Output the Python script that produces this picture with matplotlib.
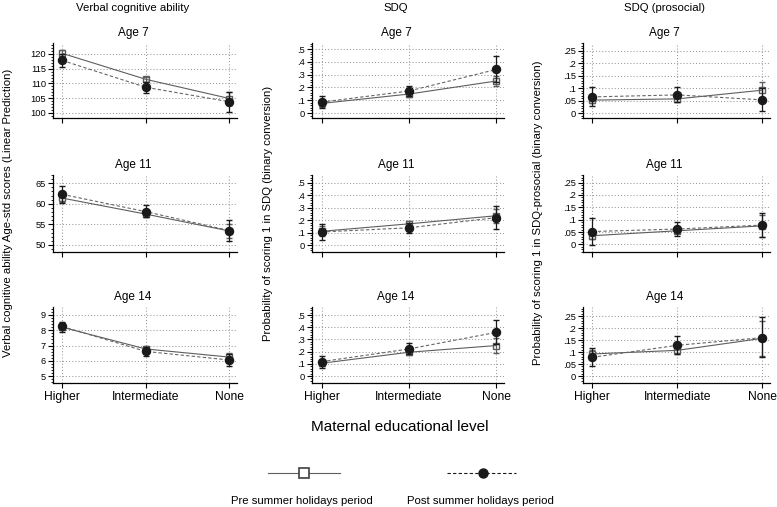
import matplotlib
matplotlib.use("Agg")
import matplotlib.pyplot as plt
from matplotlib.lines import Line2D
from matplotlib.ticker import AutoMinorLocator, FuncFormatter

plt.rcParams.update({
    "font.family": ["Liberation Sans", "DejaVu Sans"],
    "axes.linewidth": 0.9,
})

W, H = 777, 507

categories = ["Higher", "Intermediate", "None"]
col_titles = ["Verbal cognitive ability", "SDQ", "SDQ (prosocial)"]
row_titles = ["Age 7", "Age 11", "Age 14"]
ylabels = [
    "Verbal cognitive ability Age-std scores (Linear Prediction)",
    "Probability of scoring 1 in SDQ (binary conversion)",
    "Probability of scoring 1 in SDQ-prosocial (binary conversion)",
]

# verbal cognitive ability: (age 7, age 11, age 14)
verbal_pre = [[120.2, 111.4, 104.9], [61.4, 57.5, 53.4], [8.2, 6.78, 6.25]]
verbal_pre_lo = [[119.2, 110.5, 102.8], [60.4, 56.8, 51.8], [8.0, 6.6, 5.95]]
verbal_pre_hi = [[121.2, 112.3, 107.0], [62.4, 58.2, 55.0], [8.4, 6.95, 6.55]]
verbal_post = [[117.8, 108.7, 103.8], [62.3, 58.1, 53.5], [8.25, 6.62, 6.06]]
verbal_post_lo = [[115.5, 106.9, 100.4], [60.3, 56.7, 51.0], [7.92, 6.32, 5.67]]
verbal_post_hi = [[120.1, 110.5, 107.2], [64.4, 59.6, 56.1], [8.57, 6.92, 6.48]]

# SDQ
sdq_pre = [[0.075, 0.148, 0.25], [0.11, 0.17, 0.235], [0.105, 0.195, 0.25]]
sdq_pre_lo = [[0.05, 0.125, 0.21], [0.07, 0.14, 0.18], [0.08, 0.175, 0.19]]
sdq_pre_hi = [[0.10, 0.17, 0.29], [0.15, 0.195, 0.29], [0.13, 0.215, 0.31]]
sdq_post = [[0.085, 0.172, 0.34], [0.105, 0.138, 0.22], [0.118, 0.222, 0.358]]
sdq_post_lo = [[0.04, 0.13, 0.24], [0.04, 0.095, 0.13], [0.07, 0.18, 0.26]]
sdq_post_hi = [[0.13, 0.21, 0.445], [0.17, 0.18, 0.31], [0.165, 0.27, 0.46]]

# SDQ prosocial
pro_pre = [[0.052, 0.057, 0.092], [0.035, 0.055, 0.075], [0.092, 0.107, 0.157]]
pro_pre_lo = [[0.04, 0.045, 0.06], [0.02, 0.045, 0.03], [0.075, 0.09, 0.085]]
pro_pre_hi = [[0.065, 0.07, 0.125], [0.05, 0.065, 0.12], [0.11, 0.125, 0.23]]
pro_post = [[0.065, 0.073, 0.053], [0.052, 0.062, 0.078], [0.078, 0.128, 0.16]]
pro_post_lo = [[0.03, 0.045, 0.008], [-0.002, 0.035, 0.03], [0.04, 0.09, 0.078]]
pro_post_hi = [[0.105, 0.104, 0.10], [0.108, 0.092, 0.128], [0.115, 0.165, 0.245]]

outcomes = [
    (verbal_pre, verbal_pre_lo, verbal_pre_hi, verbal_post, verbal_post_lo, verbal_post_hi),
    (sdq_pre, sdq_pre_lo, sdq_pre_hi, sdq_post, sdq_post_lo, sdq_post_hi),
    (pro_pre, pro_pre_lo, pro_pre_hi, pro_post, pro_post_lo, pro_post_hi),
]

# axis settings per panel [col][row]: (ymin, ymax, tick step)
ylims = [
    [(98.3, 123.7, 5), (48.3, 67.0, 5), (4.56, 9.52, 1)],
    [(-0.039, 0.547, 0.1), (-0.056, 0.562, 0.1), (-0.057, 0.566, 0.1)],
    [(-0.02, 0.282, 0.05), (-0.031, 0.281, 0.05), (-0.029, 0.2875, 0.05)],
]
yticks_lo = [[100, 50, 5], [0, 0, 0], [0, 0, 0]]

# pixel layout
col_x = [(53, 237), (312, 504), (583, 770)]
row_y = [(43, 118), (175, 252), (307, 383)]

PRE_C = "#5e5e5e"
POST_C = "#1a1a1a"
POST_LINE = "#666666"
GRID_C = "#9a9a9a"


def stata_fmt(v, _pos=None):
    if abs(v) < 1e-9:
        return "0"
    s = f"{v:g}"
    if s.startswith("0."):
        s = s[1:]
    return s


fig = plt.figure(figsize=(W / 100, H / 100), dpi=100)

for c in range(3):
    pre, pre_lo, pre_hi, post, post_lo, post_hi = outcomes[c]
    x0, x1 = col_x[c]
    for r in range(3):
        y0, y1 = row_y[r]
        ax = fig.add_axes([x0 / W, 1 - y1 / H, (x1 - x0) / W, (y1 - y0) / H])
        xs = list(range(len(categories)))
        ymin, ymax, step = ylims[c][r]
        ax.set_xlim(-0.11, 2.09)
        ax.set_ylim(ymin, ymax)

        ticks = []
        t = yticks_lo[c][r]
        while t <= ymax + 1e-9:
            ticks.append(round(t, 4))
            t += step
        ax.set_yticks(ticks)
        ax.yaxis.set_major_formatter(FuncFormatter(stata_fmt))
        ax.yaxis.set_minor_locator(AutoMinorLocator(5))
        ax.set_xticks(xs)
        if r == 2:
            ax.set_xticklabels(categories, fontsize=8.7)
        else:
            ax.set_xticklabels([])

        ax.grid(True, which="major", linestyle=(0, (1, 2)), color=GRID_C, linewidth=0.75)
        ax.set_axisbelow(True)
        for side in ("top", "right"):
            ax.spines[side].set_visible(False)
        ax.tick_params(axis="y", which="major", labelsize=6.7, length=3.5, width=0.8, pad=1.5)
        ax.tick_params(axis="y", which="minor", length=1.8, width=0.6)
        ax.tick_params(axis="x", length=3.5, width=0.8, pad=2)

        yerr_pre = [[p - l for p, l in zip(pre[r], pre_lo[r])],
                    [h - p for p, h in zip(pre[r], pre_hi[r])]]
        yerr_post = [[p - l for p, l in zip(post[r], post_lo[r])],
                     [h - p for p, h in zip(post[r], post_hi[r])]]
        ax.errorbar(xs, pre[r], yerr=yerr_pre, color=PRE_C, linestyle="-", linewidth=0.8,
                    marker="s", markersize=5, markerfacecolor="none", markeredgecolor=PRE_C,
                    markeredgewidth=1.0, ecolor=PRE_C, elinewidth=0.9, capsize=2.5, zorder=3)
        ax.plot(xs, post[r], color=POST_LINE, linestyle=(0, (3, 2)), linewidth=0.8, zorder=3.5)
        ax.errorbar(xs, post[r], yerr=yerr_post, color=POST_C, linestyle="none",
                    marker="o", markersize=5.8, markerfacecolor=POST_C,
                    markeredgecolor=POST_C, ecolor=POST_C, elinewidth=0.9, capsize=2.5, zorder=4)

        # panel title
        fig.text(((x0 + x1) / 2 - 12) / W, 1 - (y0 - 10) / H, row_titles[r],
                 ha="center", va="center", fontsize=8.5)

    fig.text(((x0 + x1) / 2 - 12) / W, 1 - 8 / H, col_titles[c],
             ha="center", va="center", fontsize=8.2)

ylabel_x = [8, 268, 538]
for c in range(3):
    fig.text(ylabel_x[c] / W, 1 - 213 / H, ylabels[c], rotation=90,
             ha="center", va="center", fontsize=8.2)

fig.text(400 / W, 1 - 427 / H, "Maternal educational level",
         ha="center", va="center", fontsize=11)

# legend
fig.add_artist(Line2D([268 / W, 340 / W], [1 - 473 / H] * 2, color=PRE_C, linewidth=0.8))
fig.add_artist(Line2D([304 / W], [1 - 473 / H], marker="s", markersize=6.5,
                      markerfacecolor="white", markeredgecolor="#404040", markeredgewidth=1.2))
fig.add_artist(Line2D([447 / W, 516 / W], [1 - 473 / H] * 2, color=POST_C,
                      linewidth=0.8, linestyle=(0, (3, 2))))
fig.add_artist(Line2D([483 / W], [1 - 473 / H], marker="o", markersize=6.5,
                      markerfacecolor=POST_C, markeredgecolor=POST_C))
fig.text(302 / W, 1 - 501 / H, "Pre summer holidays period", ha="center", va="center", fontsize=8.2)
fig.text(480 / W, 1 - 501 / H, "Post summer holidays period", ha="center", va="center", fontsize=8.2)

fig.savefig("out.png", dpi=100)
